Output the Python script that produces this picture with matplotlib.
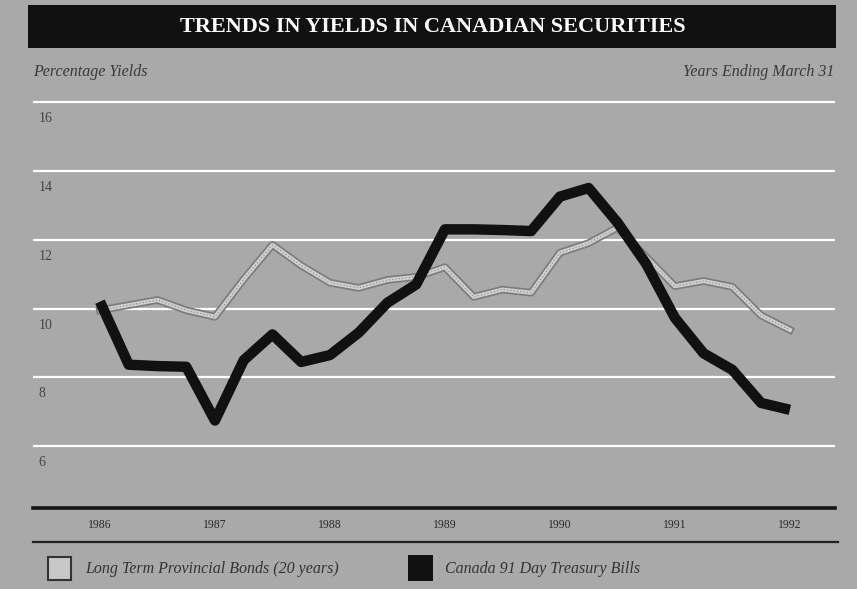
import matplotlib
matplotlib.use('Agg')
import matplotlib.pyplot as plt
from matplotlib.patches import Rectangle
from matplotlib.lines import Line2D
from matplotlib.transforms import blended_transform_factory

# Quarterly readings, March 1986 to March 1992.
quarters = list(range(25))
bonds = [9.95, 10.1, 10.25, 9.95, 9.76, 10.85, 11.85, 11.25, 10.75, 10.6,
         10.83, 10.92, 11.2, 10.34, 10.55, 10.46, 11.62, 11.9, 12.35, 11.5,
         10.65, 10.8, 10.63, 9.8, 9.38]
tbills = [10.2, 8.37, 8.33, 8.31, 6.75, 8.5, 9.25, 8.45, 8.65, 9.3,
          10.17, 10.7, 12.3, 12.3, 12.28, 12.25, 13.25, 13.5, 12.5, 11.3,
          9.73, 8.7, 8.22, 7.26, 7.06]
year_ticks = [0, 4, 8, 12, 16, 20, 24]
year_labels = ['1986', '1987', '1988', '1989', '1990', '1991', '1992']
y_levels = [16, 14, 12, 10, 8, 6]

bg = '#a9a9a9'
serif = ['Liberation Serif', 'DejaVu Serif']

fig = plt.figure(figsize=(8.57, 5.89), dpi=100, facecolor=bg)
ax = fig.add_axes([33 / 857, 1 - 508 / 589, 802 / 857, 413 / 589])
ax.set_facecolor(bg)

# White horizontal guide lines.
for v in y_levels:
    ax.axhline(v, color='white', lw=1.6, zorder=1)
trans = blended_transform_factory(ax.transAxes, ax.transData)
for v in y_levels:
    ax.text(0.007, v - 0.48, str(v), transform=trans, ha='left', va='center',
            fontsize=10, family=serif, color='#444444')

# Bonds: light band with darker edge; T-bills: heavy black line.
ax.plot(quarters, bonds, color='#7c7c7c', lw=5.5, solid_joinstyle='round', zorder=2)
ax.plot(quarters, bonds, color='#cfcfcf', lw=3, solid_joinstyle='round', zorder=3)
ax.plot(quarters, bonds, color='#888888', lw=0.8, ls=(0, (1, 2)), zorder=3)
ax.plot(quarters, tbills, color='#111111', lw=7.5, solid_joinstyle='round',
        solid_capstyle='butt', zorder=4)

ax.set_xlim(-2.33, 25.57)
ax.set_ylim(4.21, 16.2)
ax.set_yticks([])
ax.set_xticks(year_ticks)
ax.set_xticklabels(year_labels, family=serif, fontsize=8.5, color='#2a2a2a')
ax.tick_params(axis='x', length=0, pad=8)
for side in ['top', 'left', 'right']:
    ax.spines[side].set_visible(False)
ax.spines['bottom'].set_linewidth(2.6)
ax.spines['bottom'].set_color('#151515')

# Second rule under the year labels.
fig.add_artist(Line2D([33 / 857, 838 / 857], [1 - 542 / 589] * 2,
                      color='#202020', lw=1.6, transform=fig.transFigure))

# Title bar.
fig.add_artist(Rectangle((28 / 857, 1 - 48 / 589), 808 / 857, 43 / 589,
                         facecolor='#111111', edgecolor='none',
                         transform=fig.transFigure))
fig.text(0.505, 1 - 27 / 589, 'TRENDS IN YIELDS IN CANADIAN SECURITIES',
         color='white', fontsize=16, fontweight='bold', family=serif,
         ha='center', va='center')

fig.text(33 / 857, 1 - 72 / 589, 'Percentage Yields', style='italic',
         family=serif, fontsize=11.5, color='#3a3a3a', ha='left', va='center')
fig.text(834 / 857, 1 - 72 / 589, 'Years Ending March 31', style='italic',
         family=serif, fontsize=11.5, color='#3a3a3a', ha='right', va='center')

# Legend.
fig.add_artist(Rectangle((48 / 857, 1 - 580 / 589), 23 / 857, 23 / 589,
                         facecolor='#c8c8c8', edgecolor='#333333', lw=1.5,
                         transform=fig.transFigure))
fig.text(85 / 857, 1 - 569 / 589, 'Long Term Provincial Bonds (20 years)',
         style='italic', family=serif, fontsize=11.5, color='#333333',
         ha='left', va='center')
fig.add_artist(Rectangle((408 / 857, 1 - 581 / 589), 25 / 857, 26 / 589,
                         facecolor='#111111', edgecolor='none',
                         transform=fig.transFigure))
fig.text(445 / 857, 1 - 569 / 589, 'Canada 91 Day Treasury Bills',
         style='italic', family=serif, fontsize=11.5, color='#333333',
         ha='left', va='center')

fig.savefig('out.png', dpi=100, facecolor=bg)
